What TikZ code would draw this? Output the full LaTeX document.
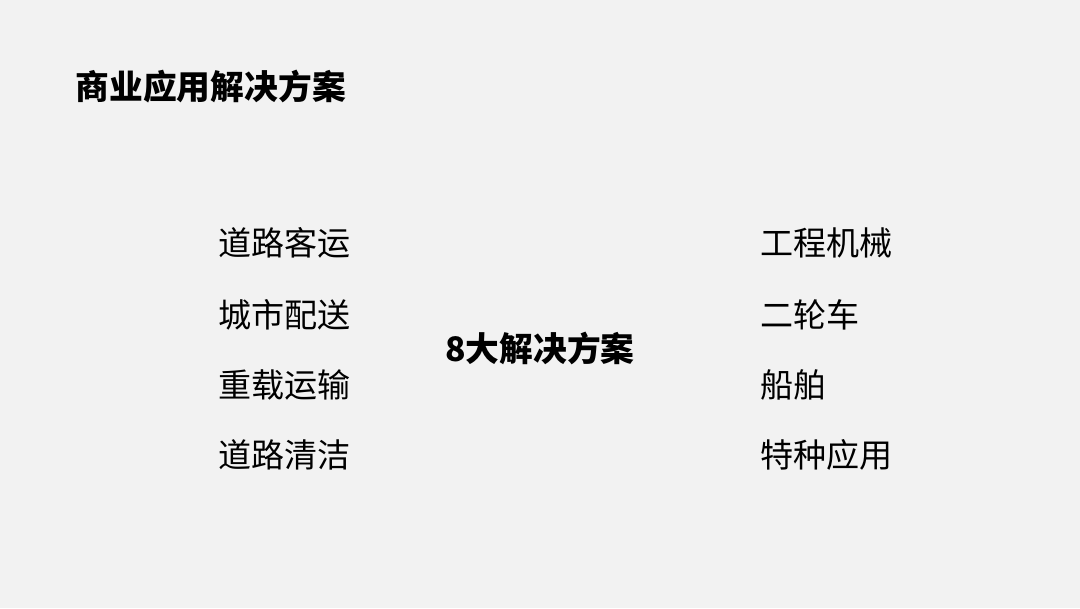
\documentclass[tikz,border=0pt]{standalone}
\usepackage{fontspec}
\newfontfamily\cjk{Noto Sans CJK SC}
\usetikzlibrary{positioning}
\definecolor{bgcol}{HTML}{F2F2F2}
\tikzset{
  item/.style={anchor=west,inner sep=0pt,font=\cjk\fontsize{9.4}{11}\selectfont},
  head/.style={anchor=west,inner sep=0pt,font=\cjk\bfseries\fontsize{9.6}{11}\selectfont}
}
\begin{document}
\begin{tikzpicture}[x=0.01cm,y=-0.01cm]
\fill[bgcol] (0,0) rectangle (1080,608);
\useasboundingbox (0,0) rectangle (1080,608);
\node[head] (title) at (75,87) {商业应用解决方案};
\node[head,anchor=center] (core) at (540,348) {8大解决方案};
% left column
\node[item] (l1) at (218,243) {道路客运};
\node[item] (l2) at (218,315) {城市配送};
\node[item] (l3) at (218,385) {重载运输};
\node[item] (l4) at (218,455) {道路清洁};
% right column
\node[item] (r1) at (760,243) {工程机械};
\node[item] (r2) at (760,315) {二轮车};
\node[item] (r3) at (760,385) {船舶};
\node[item] (r4) at (760,455) {特种应用};
\end{tikzpicture}
\end{document}
